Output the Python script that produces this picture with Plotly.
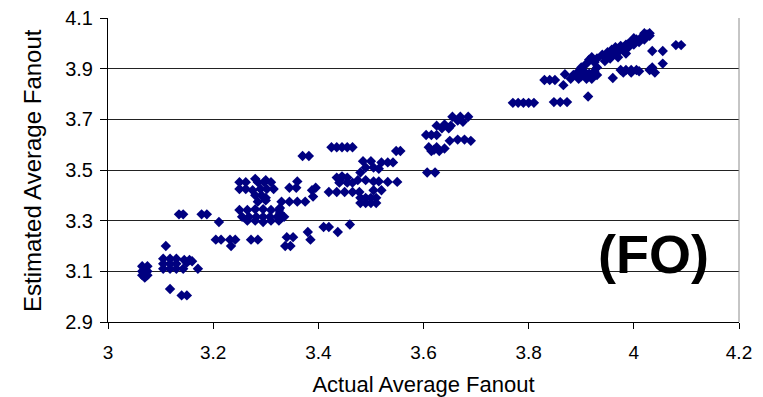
import plotly.graph_objects as go

# Actual vs. estimated average fanout, grouped by region of the plot
actual_fanout = [
    # ~3.06-3.20
    3.065, 3.075, 3.065, 3.075, 3.065, 3.075, 3.070,
    3.110,
    3.105, 3.118, 3.130, 3.105, 3.118, 3.130, 3.105, 3.118, 3.130,
    3.143, 3.171, 3.145, 3.155, 3.160, 3.150,
    3.118, 3.140, 3.150,
    3.135, 3.143, 3.178, 3.188,
    # ~3.20-3.44
    3.211,
    3.205, 3.215, 3.232, 3.242, 3.234,
    3.272, 3.285,
    3.340, 3.352, 3.337, 3.347,
    3.250, 3.262, 3.285, 3.297, 3.310,
    3.250, 3.262, 3.275, 3.290, 3.302, 3.315,
    3.280, 3.292, 3.300,
    3.285, 3.300,
    3.280, 3.300,
    3.250, 3.265, 3.280, 3.295, 3.310, 3.325,
    3.255, 3.268, 3.282, 3.295, 3.308, 3.322, 3.335,
    3.265, 3.280, 3.295, 3.310, 3.325,
    3.330, 3.345, 3.360, 3.375,
    3.327, 3.327,
    3.345, 3.358,
    3.360,
    3.370, 3.382,
    3.388, 3.390, 3.395,
    3.380, 3.385,
    3.410, 3.420,
    3.437,
    # ~3.42-3.56
    3.425, 3.435, 3.445, 3.455, 3.465,
    3.441,
    3.548, 3.556,
    3.520, 3.532, 3.542,
    3.485, 3.500, 3.490, 3.505, 3.515, 3.480,
    3.435, 3.445, 3.455, 3.440, 3.455, 3.465,
    3.475, 3.490, 3.505, 3.515,
    3.532, 3.550,
    3.420, 3.435, 3.450, 3.465, 3.478,
    3.505, 3.520,
    3.480, 3.490, 3.500, 3.510, 3.480, 3.490, 3.500, 3.510,
    3.460,
    # ~3.60-3.70
    3.607, 3.622,
    3.605, 3.615, 3.625,
    3.610, 3.625, 3.640, 3.615, 3.630, 3.620,
    3.625, 3.640, 3.652, 3.635, 3.648,
    3.655, 3.670, 3.685, 3.665, 3.675,
    3.650, 3.665, 3.678, 3.690,
    # ~3.76-3.93
    3.770, 3.780, 3.790, 3.800, 3.810,
    3.848, 3.860, 3.873,
    3.830, 3.840, 3.850,
    3.866, 3.869, 3.913,
    3.880, 3.885, 3.895, 3.900, 3.910, 3.915, 3.920, 3.900, 3.915,
    3.925, 3.930, 3.920, 3.930, 3.905, 3.895, 3.910, 3.925, 3.930,
    # ~3.94-4.09
    3.945, 3.950, 3.940, 3.950, 3.958, 3.960, 3.965, 3.970, 3.975,
    3.980, 3.985, 3.990, 3.995, 4.000, 4.005, 4.010, 4.015, 4.020,
    4.025, 4.030, 4.020, 4.030, 3.970, 3.985, 3.955, 4.000, 3.990,
    4.035, 4.055,
    4.080, 4.090,
    4.055,
    4.035, 4.040, 4.030,
    3.975, 3.985, 3.995, 4.005, 3.980, 3.995, 4.010,
    3.960,
]

estimated_fanout = [
    # ~3.06-3.20
    3.120, 3.120, 3.100, 3.100, 3.085, 3.085, 3.075,
    3.200,
    3.150, 3.150, 3.150, 3.130, 3.130, 3.130, 3.110, 3.110, 3.110,
    3.110, 3.110, 3.145, 3.145, 3.140, 3.135,
    3.030, 3.005, 3.005,
    3.325, 3.325, 3.325, 3.325,
    # ~3.20-3.44
    3.295,
    3.225, 3.225, 3.225, 3.225, 3.200,
    3.225, 3.225,
    3.235, 3.235, 3.200, 3.200,
    3.452, 3.452, 3.452, 3.452, 3.452,
    3.425, 3.425, 3.420, 3.425, 3.425, 3.425,
    3.400, 3.400, 3.390,
    3.375, 3.380,
    3.465, 3.460,
    3.342, 3.342, 3.345, 3.345, 3.342, 3.342,
    3.315, 3.315, 3.315, 3.315, 3.315, 3.315, 3.315,
    3.300, 3.300, 3.295, 3.300, 3.300,
    3.375, 3.375, 3.375, 3.375,
    3.350, 3.330,
    3.430, 3.430,
    3.455,
    3.555, 3.555,
    3.420, 3.395, 3.430,
    3.255, 3.225,
    3.275, 3.275,
    3.255,
    # ~3.42-3.56
    3.590, 3.590, 3.590, 3.590, 3.590,
    3.460,
    3.575, 3.575,
    3.530, 3.530, 3.530,
    3.535, 3.535, 3.510, 3.510, 3.505, 3.490,
    3.470, 3.475, 3.470, 3.450, 3.450, 3.450,
    3.460, 3.460, 3.455, 3.455,
    3.453, 3.453,
    3.413, 3.413, 3.413, 3.413, 3.413,
    3.420, 3.420,
    3.390, 3.390, 3.390, 3.390, 3.370, 3.370, 3.370, 3.370,
    3.285,
    # ~3.60-3.70
    3.490, 3.490,
    3.638, 3.638, 3.638,
    3.590, 3.590, 3.585, 3.575, 3.575, 3.580,
    3.675, 3.680, 3.675, 3.665, 3.665,
    3.710, 3.710, 3.710, 3.695, 3.690,
    3.615, 3.620, 3.620, 3.615,
    # ~3.76-3.93
    3.765, 3.765, 3.765, 3.765, 3.765,
    3.768, 3.768, 3.768,
    3.855, 3.855, 3.855,
    3.835, 3.878, 3.790,
    3.860, 3.875, 3.890, 3.905, 3.920, 3.935, 3.945, 3.870, 3.880,
    3.890, 3.905, 3.860, 3.875, 3.890, 3.860, 3.860, 3.925, 3.940,
    # ~3.94-4.09
    3.930, 3.945, 3.955, 3.965, 3.975, 3.955, 3.985, 3.965, 3.990,
    3.975, 3.995, 3.985, 4.005, 3.995, 4.015, 4.005, 4.025, 4.015,
    4.035, 4.040, 4.040, 4.030, 3.945, 3.960, 3.940, 4.020, 4.000,
    3.970, 3.970,
    3.993, 3.993,
    3.920,
    3.905, 3.885, 3.895,
    3.895, 3.895, 3.895, 3.895, 3.885, 3.885, 3.890,
    3.863,
]

x_ticks = [3.0, 3.2, 3.4, 3.6, 3.8, 4.0, 4.2]
x_tick_labels = ["3", "3.2", "3.4", "3.6", "3.8", "4", "4.2"]
y_ticks = [2.9, 3.1, 3.3, 3.5, 3.7, 3.9, 4.1]
y_tick_labels = ["2.9", "3.1", "3.3", "3.5", "3.7", "3.9", "4.1"]

FONT = "Liberation Sans, Arial, sans-serif"

fig = go.Figure()
fig.add_trace(go.Scatter(
    x=actual_fanout,
    y=estimated_fanout,
    mode="markers",
    marker=dict(symbol="diamond", size=8, color="#000080",
                line=dict(width=0)),
    showlegend=False,
    hoverinfo="x+y",
))

# plot-area border on the right
fig.add_shape(type="line", xref="paper", yref="paper",
              x0=1, x1=1, y0=0, y1=1,
              line=dict(color="#8c8c8c", width=1))

# vertical axis title, placed explicitly
fig.add_annotation(
    text="Estimated Average Fanout", xref="paper", yref="paper",
    x=-0.1205, y=0.5, xanchor="center", yanchor="middle", textangle=-90,
    showarrow=False, font=dict(family=FONT, size=24, color="black"),
)

fig.add_annotation(
    text="<b>(FO)</b>", xref="paper", yref="paper",
    x=0.864, y=0.225, xanchor="center", yanchor="middle",
    showarrow=False, font=dict(family=FONT, size=54, color="black"),
)

fig.update_layout(
    width=763, height=397,
    margin=dict(l=108, r=24, t=18, b=75),
    paper_bgcolor="white", plot_bgcolor="white",
    font=dict(family=FONT, color="black"),
    xaxis=dict(
        range=[3.0, 4.2], tickmode="array",
        tickvals=x_ticks, ticktext=x_tick_labels,
        ticks="outside", ticklen=6, tickcolor="black", tickwidth=1,
        showline=True, linecolor="black", linewidth=1,
        showgrid=False, zeroline=False, automargin=False,
        tickfont=dict(size=19), ticklabelstandoff=7,
        title=dict(text="Actual Average Fanout", font=dict(size=22), standoff=15),
    ),
    yaxis=dict(
        range=[2.9, 4.1], tickmode="array",
        tickvals=y_ticks, ticktext=y_tick_labels,
        ticks="outside", ticklen=7, tickcolor="black", tickwidth=1,
        showline=True, linecolor="black", linewidth=1,
        showgrid=True, gridcolor="#222222", gridwidth=1,
        zeroline=False, automargin=False,
        tickfont=dict(size=20), ticklabelstandoff=3,
    ),
)

fig.write_html("out.html")
